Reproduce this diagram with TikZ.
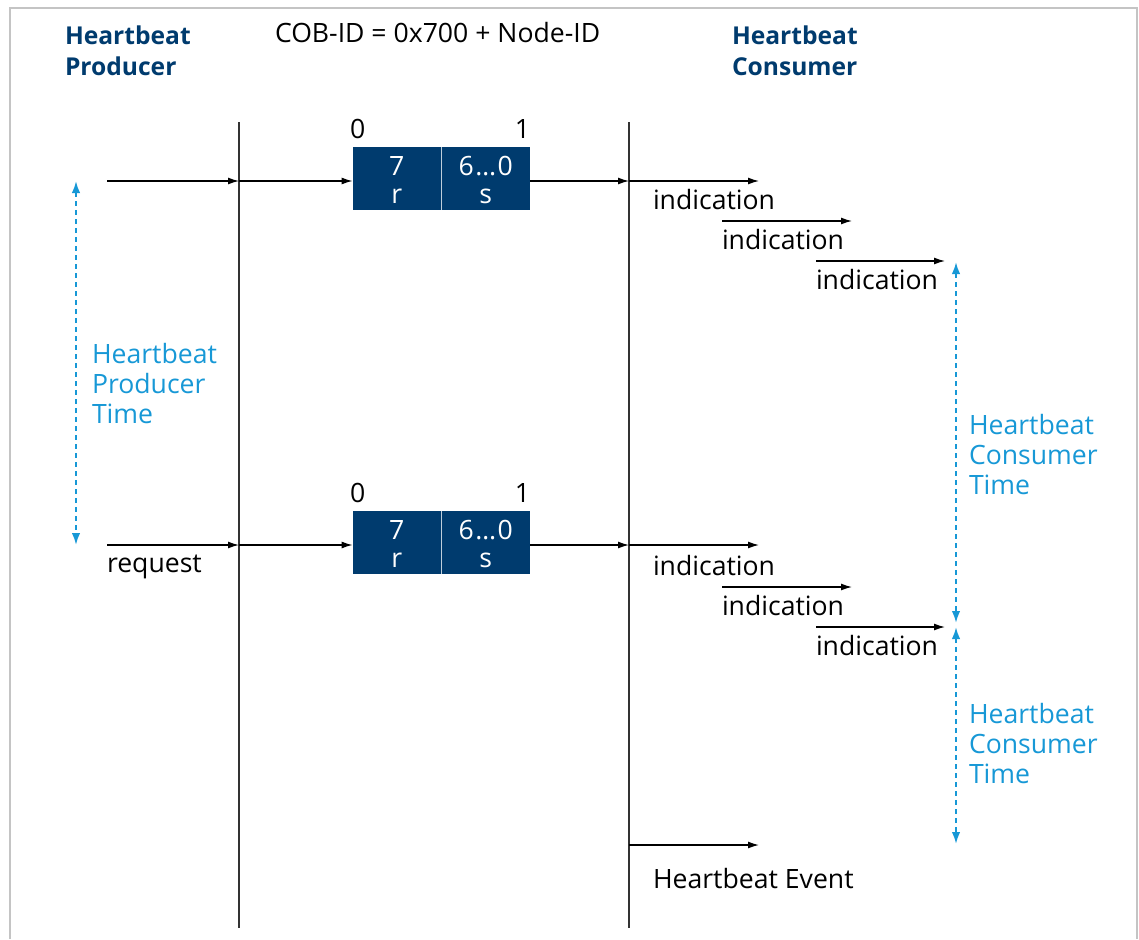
\documentclass[tikz,border=0pt]{standalone}
\usepackage{fontspec}
\setmainfont{Open Sans}
\usetikzlibrary{arrows.meta}
\definecolor{hbdark}{HTML}{003B6E}
\definecolor{hblight}{HTML}{1798D6}
\definecolor{framegray}{HTML}{C4C4C4}
\definecolor{lifegray}{HTML}{333333}
\tikzset{
  txt/.style={inner sep=0pt, outer sep=0pt, font=\fontsize{26.6}{30}\selectfont},
  hdr/.style={txt, text=hbdark, font=\fontsize{24.6}{31}\selectfont\bfseries, align=left},
  blue/.style={txt, text=hblight, align=left},
  msg/.style={-{Latex[length=11pt,width=7pt]}, line width=1.3pt, black},
  timearr/.style={{Latex[length=12pt,width=8.5pt]}-{Latex[length=12pt,width=8.5pt]}, hblight, line width=2pt, dash pattern=on 5pt off 4pt},
  lifeline/.style={lifegray, line width=2pt},
  frame/.style={framegray, line width=1.5pt},
  pdu/.style={fill=hbdark, draw=none, minimum width=88pt, minimum height=63pt, inner sep=0pt},
  pdutext/.style={inner sep=0pt, text=white, align=center, font=\fontsize{26.6}{28}\selectfont},
}
\begin{document}
\begin{tikzpicture}[x=1pt,y=-1pt]
\useasboundingbox (0,0) rectangle (1139,939);
% frame
\draw[frame] (10,939) -- (10,8) -- (1137,8) -- (1137,939);
% headers
\node[hdr, anchor=base west] (prodhdr) at (65,76) {Heartbeat\\Producer};
\node[hdr, anchor=base west] (conshdr) at (732,76) {Heartbeat\\Consumer};
\node[txt, anchor=base west] (cobid) at (275,43) {COB-ID = 0x700 + Node-ID};
% lifelines
\coordinate (pt) at (239,122); \coordinate (pb) at (239,928);
\coordinate (ct) at (629,122); \coordinate (cb) at (629,928);
\draw[lifeline] (pt) -- (pb);
\draw[lifeline] (ct) -- (cb);
% frames (PDU boxes)
\foreach \i/\y in {1/181, 2/545} {
  \node[pdu, anchor=east, fill=hbdark] (r\i) at (441,\y-2.5) {};
  \node[pdu, anchor=west, fill=hbdark, minimum width=89pt] (s\i) at (441,\y-2.5) {};
  \node[pdutext, anchor=base] (rt\i) at ([yshift=-24.5pt]r\i.center) {7\\r};
  \node[pdutext, anchor=base] (st\i) at ([yshift=-24.5pt]s\i.center) {6\kern1.5pt…\kern1.5pt0\\s};
  \draw[white!75!hbdark, line width=1pt] (r\i.north east) -- (r\i.south east);
  \node[txt, anchor=base west] (zero\i) at (350,\y-43) {0};
  \node[txt, anchor=base east] (one\i) at (530,\y-43) {1};
  \coordinate (src\i) at (107,\y);
  \coordinate (pl\i) at (239,\y);
  \coordinate (cl\i) at (629,\y);
}
% first cycle
\draw[msg] (src1) -- (pl1);
\draw[msg] (pl1) -- (r1.west |- pl1);
\draw[msg] (s1.east |- cl1) -- (cl1);
\coordinate (i1e) at (759,181);
\coordinate (i2s) at (722,221); \coordinate (i2e) at (852,221);
\coordinate (i3s) at (816,261); \coordinate (i3e) at (945,261);
\draw[msg] (cl1) -- (i1e);
\draw[msg] (i2s) -- (i2e);
\draw[msg] (i3s) -- (i3e);
\node[txt, anchor=base west] (ind1) at (653,209) {indication};
\node[txt, anchor=base west] (ind2) at (722,249) {indication};
\node[txt, anchor=base west] (ind3) at (816,289) {indication};
% second cycle
\draw[msg] (src2) -- (pl2);
\draw[msg] (pl2) -- (r2.west |- pl2);
\draw[msg] (s2.east |- cl2) -- (cl2);
\node[txt, anchor=base west] (req) at (107,572) {request};
\coordinate (j1e) at (759,545);
\coordinate (j2s) at (722,587); \coordinate (j2e) at (852,587);
\coordinate (j3s) at (816,627); \coordinate (j3e) at (945,627);
\draw[msg] (cl2) -- (j1e);
\draw[msg] (j2s) -- (j2e);
\draw[msg] (j3s) -- (j3e);
\node[txt, anchor=base west] (ind4) at (653,575) {indication};
\node[txt, anchor=base west] (ind5) at (722,615) {indication};
\node[txt, anchor=base west] (ind6) at (816,655) {indication};
% heartbeat event
\coordinate (ev) at (629,845); \coordinate (eve) at (759,845);
\draw[msg] (ev) -- (eve);
\node[txt, anchor=base west] (evt) at (653,888) {Heartbeat Event};
% time arrows
\coordinate (pta) at (76,181); \coordinate (ptb) at (76,545);
\draw[timearr] (pta) -- (ptb);
\node[blue, anchor=base west] (prodtime) at (92,423) {Heartbeat\\Producer\\Time};
\coordinate (cta) at (956,262); \coordinate (ctb) at (956,623);
\coordinate (ctc) at (956,627); \coordinate (ctd) at (956,844);
\draw[timearr] (cta) -- (ctb);
\draw[timearr] (ctc) -- (ctd);
\node[blue, anchor=base west] (constime1) at (969,494) {Heartbeat\\Consumer\\Time};
\node[blue, anchor=base west] (constime2) at (969,783) {Heartbeat\\Consumer\\Time};
\end{tikzpicture}
\end{document}
